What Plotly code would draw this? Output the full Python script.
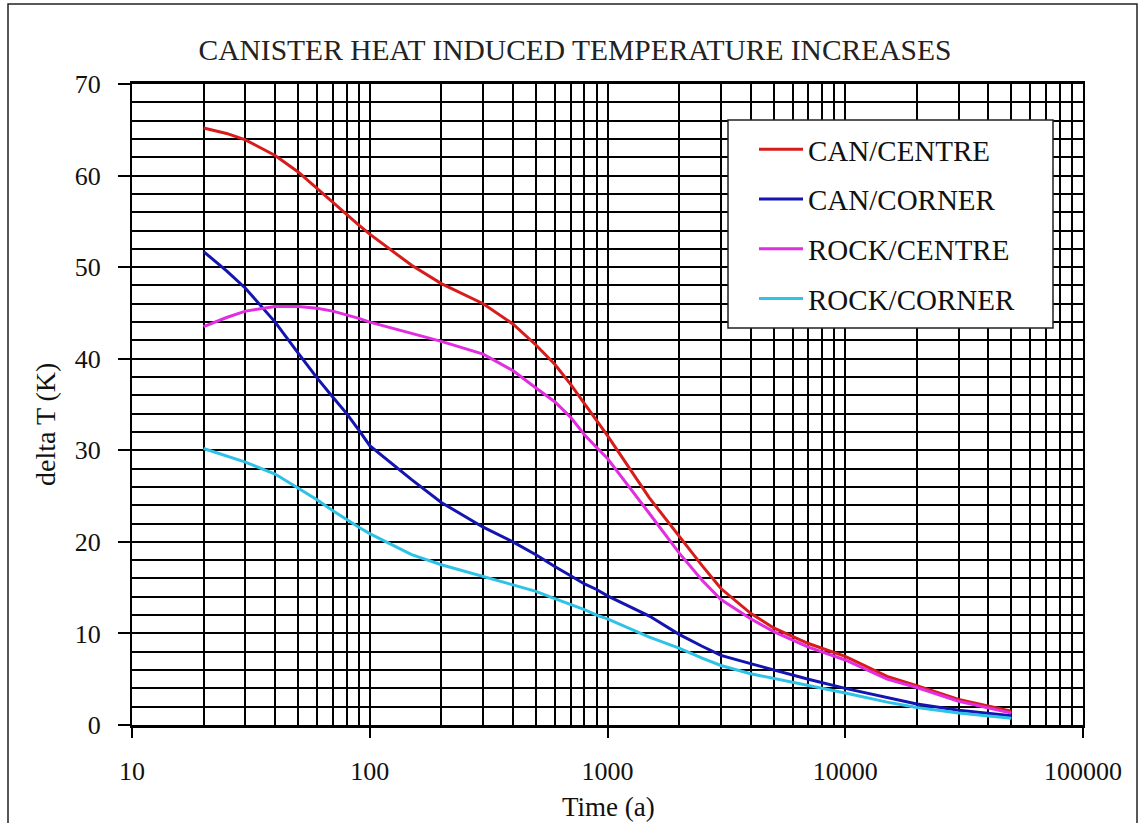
import plotly.graph_objects as go

# Time after deposition (years)
time_a = [20, 25, 30, 40, 50, 60, 70, 80, 90, 100, 150, 200, 300, 400, 500, 600, 700,
          800, 900, 1000, 1500, 2000, 2500, 3000, 4000, 5000, 7000, 10000, 15000,
          20000, 30000, 50000]

# Temperature increases (K)
can_centre = [65.2, 64.6, 63.9, 62.2, 60.4, 58.6, 57.0, 55.7, 54.6, 53.6, 50.2, 48.2,
              46.0, 43.8, 41.5, 39.4, 37.2, 35.1, 33.3, 31.6, 24.8, 20.6, 17.4, 14.9,
              12.2, 10.6, 8.9, 7.5, 5.3, 4.3, 2.8, 1.5]
can_corner = [51.7, 49.6, 47.7, 44.0, 40.6, 37.9, 35.8, 34.0, 32.2, 30.5, 26.8, 24.3,
              21.6, 20.0, 18.6, 17.3, 16.3, 15.4, 14.8, 14.1, 11.9, 9.9, 8.6, 7.6,
              6.7, 6.0, 5.0, 4.0, 3.0, 2.3, 1.6, 1.0]
rock_centre = [43.5, 44.5, 45.2, 45.7, 45.7, 45.5, 45.2, 44.8, 44.4, 44.0, 42.8, 41.9,
               40.5, 38.7, 36.8, 35.3, 33.6, 31.7, 30.3, 29.1, 23.1, 18.8, 15.8, 13.7,
               11.6, 10.2, 8.5, 7.1, 5.0, 4.1, 2.6, 1.3]
rock_corner = [30.2, 29.4, 28.7, 27.4, 25.9, 24.6, 23.4, 22.4, 21.6, 20.9, 18.6, 17.5,
               16.2, 15.3, 14.6, 13.8, 13.2, 12.6, 12.0, 11.6, 9.6, 8.4, 7.3, 6.5,
               5.6, 5.1, 4.3, 3.5, 2.5, 1.9, 1.3, 0.73]

series_names = ["CAN/CENTRE", "CAN/CORNER", "ROCK/CENTRE", "ROCK/CORNER"]
series_values = [can_centre, can_corner, rock_centre, rock_corner]
series_colors = ["#d81c1c", "#1414b0", "#e02ee0", "#2ec2e6"]

x_major = [10, 100, 1000, 10000, 100000]
x_major_text = ["10", "100", "1000", "10000", "100000"]
x_minor = [m * d for d in [10, 100, 1000, 10000] for m in range(2, 10)]

SERIF = "Liberation Serif, Times New Roman, serif"

# Plot-area geometry in pixels (used for the paper-referenced frame and legend box)
L, R, T, B = 132, 1083, 84, 725
PW, PH = R - L, B - T


def px_x(px):
    return (px - L) / PW


def px_y(py):
    return (B - py) / PH


fig = go.Figure()
for name, vals, col in zip(series_names, series_values, series_colors):
    fig.add_trace(go.Scatter(
        x=time_a, y=vals, name=name, mode="lines", legendgroup=name,
        line=dict(color=col, width=3),
    ))

fig.update_layout(
    width=1141, height=823,
    margin=dict(l=L, r=1141 - R, t=T, b=823 - B, autoexpand=False),
    paper_bgcolor="white", plot_bgcolor="white",
    font=dict(family=SERIF, color="#111111", size=26),
    title=dict(text="CANISTER HEAT INDUCED TEMPERATURE INCREASES",
               x=575 / 1141, xref="container", xanchor="center",
               y=1 - 50 / 823, yref="container", yanchor="middle",
               font=dict(family=SERIF, size=29.5, color="#222222")),
    showlegend=True,
    legend=dict(x=px_x(754), y=px_y(124), xanchor="left", yanchor="top",
                bgcolor="rgba(0,0,0,0)", borderwidth=0,
                font=dict(family=SERIF, size=29, color="#111111"),
                tracegroupgap=9, itemwidth=44),
)

fig.update_xaxes(
    type="log", range=[1, 5], automargin=False,
    tickvals=x_major, ticktext=x_major_text,
    ticks="outside", ticklen=10, tickwidth=2, tickcolor="black",
    ticklabelstandoff=11,
    showgrid=True, gridcolor="black", gridwidth=2,
    minor=dict(tickvals=x_minor, showgrid=True, gridcolor="black", gridwidth=2, ticks=""),
    showline=True, linecolor="black", linewidth=3, mirror=True,
    zeroline=False,
)
fig.update_yaxes(
    range=[0, 70], dtick=10, tick0=0, automargin=False,
    ticks="outside", ticklen=12, tickwidth=2, tickcolor="black",
    ticklabelstandoff=12,
    showgrid=True, gridcolor="black", gridwidth=2,
    minor=dict(dtick=2, showgrid=True, gridcolor="black", gridwidth=2, ticks=""),
    showline=True, linecolor="black", linewidth=2, mirror=True,
    zeroline=False,
)

# Axis titles
fig.add_annotation(text="Time (a)", xref="paper", yref="paper",
                   x=px_x(608), y=px_y(807), xanchor="center", yanchor="middle",
                   showarrow=False, font=dict(family=SERIF, size=27, color="#111111"))
fig.add_annotation(text="delta T (K)", xref="paper", yref="paper",
                   x=px_x(45), y=px_y(425), xanchor="center", yanchor="middle",
                   textangle=-90, showarrow=False,
                   font=dict(family=SERIF, size=28, color="#111111"))

# Legend box
fig.add_shape(type="rect", xref="paper", yref="paper",
              x0=px_x(728), x1=px_x(1053), y0=px_y(328), y1=px_y(120),
              line=dict(color="#222222", width=1.5), fillcolor="white", layer="above")

# Outer frame around the whole figure
fig.add_shape(type="rect", xref="paper", yref="paper",
              x0=px_x(8), x1=px_x(1137), y0=px_y(840), y1=px_y(4),
              line=dict(color="#222222", width=1.5), layer="below")

fig.write_html("out.html")
